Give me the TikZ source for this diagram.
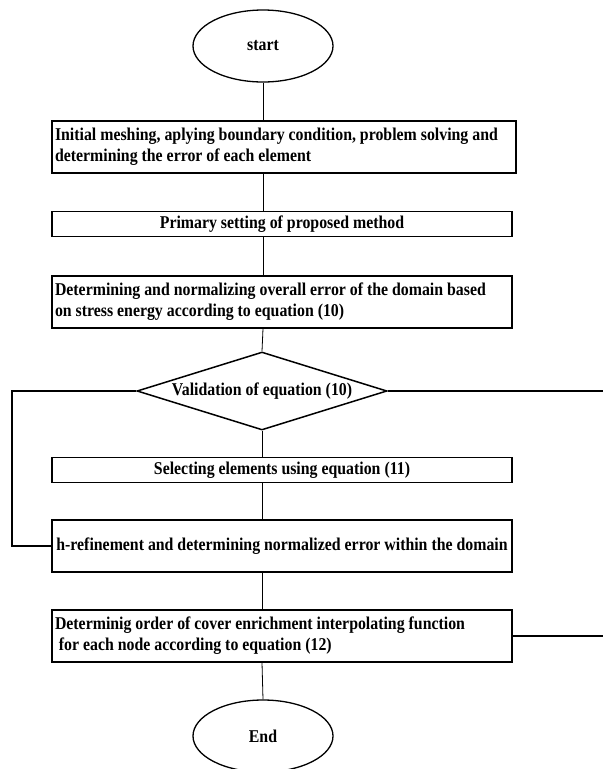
\documentclass[tikz,border=0pt]{standalone}
\usepackage{fontspec}
\setmainfont{Liberation Serif}[FakeStretch=0.88]
\usetikzlibrary{shapes.geometric}

\begin{document}
\begin{tikzpicture}[x=1pt, y=-1pt,
    every node/.style={font=\bfseries\fontsize{18}{21}\selectfont},
    terminal/.style={draw, line width=1.3pt, ellipse, minimum width=140, minimum height=72, inner sep=0pt},
    stepbox/.style={draw, line width=1.3pt, minimum width=460, minimum height=25, inner sep=3pt},
    widebox/.style={stepbox, text width=454, align=flush left, minimum height=52},
    check/.style={draw, line width=1.5pt, diamond, aspect=3.2, minimum width=250, minimum height=78, inner sep=0pt},
    link/.style={line width=0.8pt},
    loop/.style={line width=1.3pt}]
          \useasboundingbox (0,0) rectangle (603,769);

          % Start and first steps
          \node[terminal] (start) at (263,46) {start};
          \node[widebox, minimum width=464, text width=458] (mesh) at (284,147)
            {Initial meshing, aplying boundary condition, problem solving and\\ determining the error of each element};
          \node[stepbox] (setting) at (282,224) {Primary setting of proposed method};
          \node[widebox] (overall) at (282,302)
            {Determining and normalizing overall error of the domain based\\ on stress energy according to equation (10)};

          % Check
          \node[check] (valid) at (262,391) {Validation of equation (10)};

          % Refinement steps
          \node[stepbox] (select) at (282,470) {Selecting elements using equation (11)};
          \node[stepbox, minimum height=52] (refine) at (282,546)
            {h-refinement and determining normalized error within the domain};
          \node[widebox] (order) at (282,636)
            {Determinig order of cover enrichment interpolating function\\ \ for each node according to equation (12)};
          \node[terminal] (end) at (263,736) {End};

          % Free ends
          \coordinate (left) at (12,391);
          \coordinate (right) at (603,391);
          \coordinate (out) at (603,636);

          % Connectors
          \draw[link] (start.south) -- (start.south |- mesh.north);
          \draw[link] (start.south |- mesh.south) -- (start.south |- setting.north);
          \draw[link] (start.south |- setting.south) -- (start.south |- overall.north);
          \draw[link] (start.south |- overall.south) -- (valid.north);
          \draw[link] (valid.south) -- (valid.south |- select.north);
          \draw[link] (valid.south |- select.south) -- (valid.south |- refine.north);
          \draw[link] (valid.south |- refine.south) -- (valid.south |- order.north);
          \draw[link] (valid.south |- order.south) -- (end.north);

          % Loop
          \draw[loop] (valid.west) -- (left) |- (refine.west);
          \draw[loop] (valid.east) -- (right);
          \draw[loop] (order.east) -- (out);
        \end{tikzpicture}
\end{document}
